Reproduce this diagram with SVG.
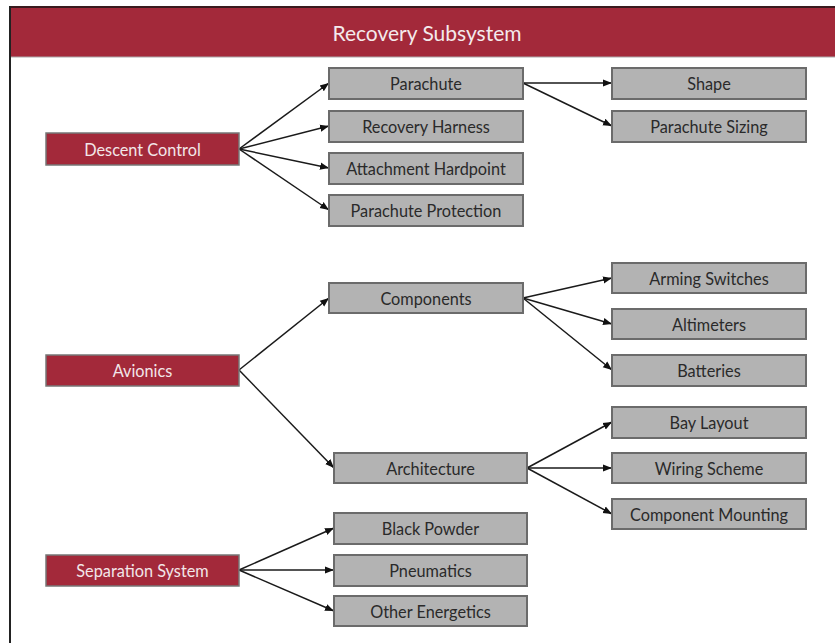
<svg xmlns="http://www.w3.org/2000/svg" width="835" height="643" viewBox="0 0 835 643">
<defs>
<marker id="arr" viewBox="0 0 10 10" refX="10" refY="5" markerWidth="9" markerHeight="9" markerUnits="userSpaceOnUse" orient="auto">
<path d="M0,1 L10,5 L0,9 Z" fill="#111"/>
</marker>
<style>
.red{fill:#A3293A;stroke:#777;stroke-width:1.5}
.gray{fill:#B3B3B3;stroke:#6b6b6b;stroke-width:2}
.tw{fill:#f2e6e8;font-family:Lato,"Liberation Sans",sans-serif;font-size:16.3px;text-anchor:middle;dominant-baseline:central}
.tg{fill:#2a2a2a;font-family:Lato,"Liberation Sans",sans-serif;font-size:16.3px;text-anchor:middle;dominant-baseline:central}
.ln{stroke:#1a1a1a;stroke-width:1.5;fill:none;marker-end:url(#arr)}
</style>
</defs>
<rect x="0" y="0" width="835" height="643" fill="#fff"/>
<g id="frame">
<rect x="10" y="7" width="830" height="50" fill="#A3293A"/>
<line x1="10" y1="7" x2="835" y2="7" stroke="#3a1a1e" stroke-width="2"/>
<line x1="10" y1="57" x2="835" y2="57" stroke="#aaa" stroke-width="1"/>
<line x1="10" y1="6" x2="10" y2="643" stroke="#222" stroke-width="2"/>
<text x="427" y="32" class="tw" style="font-size:21px;fill:#f4eaec">Recovery Subsystem</text>
</g>
<g id="connectors">
<line class="ln" x1="239" y1="149" x2="329" y2="83"/>
<line class="ln" x1="239" y1="149" x2="329" y2="126"/>
<line class="ln" x1="239" y1="149" x2="329" y2="168"/>
<line class="ln" x1="239" y1="149" x2="329" y2="210"/>
<line class="ln" x1="523" y1="83" x2="612" y2="83"/>
<line class="ln" x1="523" y1="83" x2="612" y2="126"/>
<line class="ln" x1="239" y1="370" x2="329" y2="298"/>
<line class="ln" x1="239" y1="370" x2="334" y2="468"/>
<line class="ln" x1="523" y1="298" x2="612" y2="278"/>
<line class="ln" x1="523" y1="298" x2="612" y2="324"/>
<line class="ln" x1="523" y1="298" x2="612" y2="370"/>
<line class="ln" x1="527" y1="468" x2="612" y2="422"/>
<line class="ln" x1="527" y1="468" x2="612" y2="468"/>
<line class="ln" x1="527" y1="468" x2="612" y2="514"/>
<line class="ln" x1="239" y1="570" x2="334" y2="528"/>
<line class="ln" x1="239" y1="570" x2="334" y2="570"/>
<line class="ln" x1="239" y1="570" x2="334" y2="611"/>
</g>
<g id="descent-control"><rect class="red" x="46" y="133" width="193" height="32"/><text class="tw" x="142.5" y="149">Descent Control</text></g>
<g id="avionics"><rect class="red" x="46" y="355" width="193" height="31"/><text class="tw" x="142.5" y="370.5">Avionics</text></g>
<g id="separation-system"><rect class="red" x="46" y="555" width="193" height="31"/><text class="tw" x="142.5" y="570.5">Separation System</text></g>
<g id="parachute"><rect class="gray" x="329" y="68" width="194" height="31"/><text class="tg" x="426" y="83.5">Parachute</text></g>
<g id="recovery-harness"><rect class="gray" x="329" y="111" width="194" height="31"/><text class="tg" x="426" y="126.5">Recovery Harness</text></g>
<g id="attachment-hardpoint"><rect class="gray" x="329" y="153" width="194" height="31"/><text class="tg" x="426" y="168.5">Attachment Hardpoint</text></g>
<g id="parachute-protection"><rect class="gray" x="329" y="195" width="194" height="31"/><text class="tg" x="426" y="210.5">Parachute Protection</text></g>
<g id="shape"><rect class="gray" x="612" y="68" width="194" height="31"/><text class="tg" x="709" y="83.5">Shape</text></g>
<g id="parachute-sizing"><rect class="gray" x="612" y="111" width="194" height="31"/><text class="tg" x="709" y="126.5">Parachute Sizing</text></g>
<g id="components"><rect class="gray" x="329" y="283" width="194" height="30"/><text class="tg" x="426" y="298">Components</text></g>
<g id="architecture"><rect class="gray" x="334" y="453" width="193" height="30"/><text class="tg" x="430.5" y="468">Architecture</text></g>
<g id="arming-switches"><rect class="gray" x="612" y="263" width="194" height="30"/><text class="tg" x="709" y="278">Arming Switches</text></g>
<g id="altimeters"><rect class="gray" x="612" y="309" width="194" height="30"/><text class="tg" x="709" y="324">Altimeters</text></g>
<g id="batteries"><rect class="gray" x="612" y="355" width="194" height="31"/><text class="tg" x="709" y="370.5">Batteries</text></g>
<g id="bay-layout"><rect class="gray" x="612" y="407" width="194" height="31"/><text class="tg" x="709" y="422.5">Bay Layout</text></g>
<g id="wiring-scheme"><rect class="gray" x="612" y="453" width="194" height="30"/><text class="tg" x="709" y="468">Wiring Scheme</text></g>
<g id="component-mounting"><rect class="gray" x="612" y="499" width="194" height="30"/><text class="tg" x="709" y="514">Component Mounting</text></g>
<g id="black-powder"><rect class="gray" x="334" y="513" width="193" height="31"/><text class="tg" x="430.5" y="528.5">Black Powder</text></g>
<g id="pneumatics"><rect class="gray" x="334" y="555" width="193" height="31"/><text class="tg" x="430.5" y="570.5">Pneumatics</text></g>
<g id="other-energetics"><rect class="gray" x="334" y="596" width="193" height="30"/><text class="tg" x="430.5" y="611">Other Energetics</text></g>
</svg>
